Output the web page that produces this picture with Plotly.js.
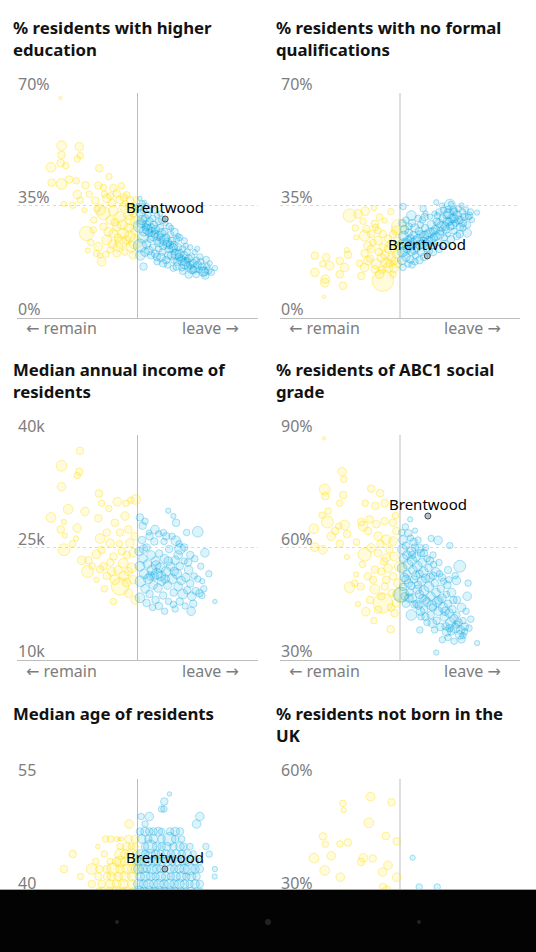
<!DOCTYPE html>
<html><head><meta charset="utf-8">
<script src="https://cdn.plot.ly/plotly-3.0.1.min.js"></script>
<style>
html,body{margin:0;padding:0;background:#fff;overflow:hidden;width:536px;height:952px}
#wrap{position:relative;width:536px;height:952px;overflow:hidden;background:#fff}
#chart{position:absolute;left:0;top:0;width:536px;height:952px}
#navbar{position:absolute;left:0;top:889px;width:536px;height:63px;background:#030303;border-top:1px solid #a8a8a8;box-sizing:border-box}
.dot{position:absolute;border-radius:50%;background:#232323}
</style></head><body>
<div id="wrap"><div id="chart"></div>
<div id="navbar">
<div class="dot" style="left:115px;top:30px;width:4px;height:4px"></div>
<div class="dot" style="left:265px;top:29px;width:6px;height:6px"></div>
<div class="dot" style="left:417px;top:30px;width:4px;height:4px"></div>
</div></div>
<script>
// ---- DATA: [leave vote %, value, population (thousands)] ----
const panelTitles = [
  '% residents with higher<br>education',
  '% residents with no formal<br>qualifications',
  'Median annual income of<br>residents',
  '% residents of ABC1 social<br>grade',
  'Median age of residents',
  '% residents not born in the<br>UK'
];
const eduTicks = [0, 35, 70], eduLabels = ['0%', '35%', '70%'];
const noqualTicks = [0, 35, 70], noqualLabels = ['0%', '35%', '70%'];
const incomeTicks = [10, 25, 40], incomeLabels = ['10k', '25k', '40k'];
const abc1Ticks = [30, 60, 90], abc1Labels = ['30%', '60%', '90%'];
const ageTicks = [25, 40, 55], ageLabels = ['25', '40', '55'];
const foreignTicks = [0, 30, 60], foreignLabels = ['0%', '30%', '60%'];
const leaveRange = [10, 90];
const brentwoodName = 'Brentwood';
const brentwoodEdu = [59.2, 30.8];
const brentwoodNoqual = [59.1, 19.3];
const brentwoodAbc1 = [59.3, 68.4];
const brentwoodAge = [59.1, 43];

const eduPoints = [
[24.4,68.5,20],[24.8,53.6,165],[30.7,53.3,130],[24.8,50.7,100],[31.0,50.5,75],[30.0,49.5,75],[24.5,48.2,100],[26.2,47.4,75],[21.3,46.9,165],[37.3,46.6,100],[40.5,44.0,75],[21.5,42.1,100],[24.8,41.7,200],[27.3,43.1,100],[29.7,42.7,75],[32.7,41.3,100],[37.0,41.2,100],[38.7,40.6,75],[42.0,40.4,100],[44.7,41.1,75],[30.0,38.4,130],[31.0,36.7,75],[25.6,35.5,50],[28.5,35.1,75],[32.4,33.5,50],[39.8,37.2,130],[43.1,38.8,100],[46.4,38.3,75],[47.5,36.7,100],[37.6,33.6,200],[38.7,32.6,300],[42.0,33.4,165],[45.3,34.6,100],[48.1,33.6,130],[40.9,30.5,130],[44.2,31.5,200],[47.5,30.5,165],[48.6,32.6,100],[33.1,26.3,350],[35.3,27.4,75],[37.0,22.2,130],[36.4,20.1,75],[38.1,17.5,130],[39.8,24.3,165],[42.0,26.3,130],[43.6,22.2,165],[45.3,26.3,200],[46.4,24.3,130],[43.1,20.1,100],[40.9,21.2,75],[48.1,22.2,200],[49.2,23.5,300],[43.1,28.4,130],[38.7,28.4,100],[40.3,26.8,130],[45.0,29.0,165],[47.0,28.0,130],[49.0,27.0,100],[49.3,30.0,165],[46.0,35.5,75],[41.5,35.8,100],[36.0,36.5,100],[35.5,30.5,75],[34.5,23.5,75],[44.5,23.5,250],[47.5,25.5,200],[48.8,35.0,75],[42.5,29.8,100],[39.0,38.5,75],[33.5,21.0,50],[37.5,19.5,50],[45.8,20.5,75],[48.5,19.5,100],[49.5,37.0,50],[41.0,38.0,75],[44.0,36.8,100],[46.8,32.0,130],[43.5,25.0,100],[41.8,23.0,130],[39.5,19.8,75],[47.8,34.5,75],[45.5,37.5,100],[36.5,34.0,75],[34.0,38.5,75],
[50.8,37.2,35],[50.5,34.5,100],[51.0,32.5,130],[51.5,30.5,165],[50.6,28.5,250],[52.0,33.5,75],[52.5,31.0,100],[53.0,29.0,130],[52.2,27.0,165],[51.8,25.0,200],[53.5,32.0,75],[54.0,30.0,100],[54.5,28.0,130],[53.8,26.5,100],[54.2,24.5,75],[55.0,31.0,75],[55.5,29.0,100],[56.0,27.5,130],[55.2,25.5,165],[56.5,24.0,100],[57.0,30.0,75],[57.5,28.0,100],[58.0,26.5,130],[57.2,23.5,130],[58.5,22.5,100],[59.0,27.0,75],[59.5,25.0,100],[60.0,23.5,130],[60.5,21.5,100],[61.0,26.0,75],[61.5,24.0,100],[62.0,22.5,130],[62.5,20.5,75],[63.0,24.5,75],[63.5,22.0,100],[64.0,20.0,130],[64.5,18.5,100],[65.0,21.5,75],[65.5,19.5,100],[66.0,17.5,130],[66.5,20.5,75],[67.0,18.5,100],[67.5,16.5,100],[68.0,19.0,75],[68.5,17.0,100],[69.0,15.5,130],[69.5,18.0,75],[70.0,16.5,100],[70.5,15.0,75],[71.0,17.5,75],[71.5,16.0,100],[72.0,14.5,130],[73.0,16.0,75],[73.5,14.8,100],[75.7,15.5,50],[52.0,16.0,100],[56.4,19.0,100],[61.9,15.5,75],[64.7,15.6,75],[66.3,18.0,50],[70.7,19.0,75],[71.9,14.4,165],[68.5,14.9,100],[51.2,29.5,130],[52.8,28.2,100],[53.3,27.5,165],[54.8,26.8,130],[55.8,26.2,100],[56.8,25.5,130],[57.8,25.0,100],[58.8,24.2,165],[59.8,22.8,130],[60.8,22.8,100],[61.8,21.8,130],[62.8,19.8,165],[63.8,19.0,100],[64.8,17.8,130],[65.8,16.8,165],[66.8,16.0,100],[67.8,15.2,130],[58.2,20.5,75],[60.2,19.5,100],[55.0,22.0,75],[53.0,23.0,130],[57.0,21.5,75],[50.8,22.5,300],[62.0,18.0,75],[59.3,29.5,50],[61.2,28.0,50],[63.5,25.5,50],[66.0,22.5,50],[69.0,20.5,50],[56.5,32.0,50],[54.0,33.5,50],
[51.5,35.5,75],[53.0,34.8,50],[52.3,36.0,35],[55.5,33.5,75],[57.5,32.5,50],[58.2,30.5,100],[60.5,28.5,75],[62.3,26.8,100],[64.0,25.0,75],[65.5,24.0,75],[67.5,22.0,50],[69.8,21.5,50],[52.5,20.5,130],[54.5,19.5,100],[56.5,17.5,75],[58.5,17.0,100],[60.0,16.5,75],[63.0,16.0,100],[65.0,14.5,75],[67.0,13.5,100],[69.5,13.5,75],[72.5,13.2,100],[74.5,14.2,75],[51.0,19.5,165],[53.8,21.0,130],[55.8,20.0,100],[57.8,18.8,130],[59.5,18.0,100],[61.3,19.5,130],[63.2,17.5,100],[74.0,17.0,50],[72.8,18.2,75]
];

const noqualPoints = [
[24.7,6.6,20],[21.6,19.4,100],[21.6,14.2,130],[25.4,18.9,100],[24.3,16.8,75],[26.6,16.3,130],[25.1,12.1,130],[24.9,11.0,130],[29.9,17.8,100],[31.6,15.7,130],[29.9,13.6,100],[31.0,10.0,100],[32.3,21.1,50],[32.7,19.7,100],[33.2,31.9,300],[36.0,32.4,130],[38.4,33.2,130],[41.3,34.2,50],[46.9,33.1,75],[35.1,28.0,75],[37.7,30.1,75],[38.8,27.7,100],[41.6,29.3,100],[43.2,31.4,75],[44.9,30.3,50],[35.4,25.1,50],[38.2,25.6,200],[40.4,26.1,100],[41.8,28.2,75],[39.3,22.5,130],[38.2,20.1,100],[40.4,21.5,100],[42.7,24.1,130],[44.3,22.0,100],[46.0,24.6,100],[47.7,26.1,100],[48.8,27.2,165],[49.7,28.4,400],[38.2,15.7,130],[37.1,13.1,100],[39.3,17.8,130],[42.1,16.8,165],[43.8,18.8,130],[45.4,17.3,165],[47.1,18.8,130],[48.8,19.9,130],[47.7,21.5,100],[49.3,16.8,100],[44.3,11.6,800],[41.6,15.2,100],[43.2,13.6,130],[47.7,13.6,75],[46.0,15.7,165],[48.2,17.8,100],[42.7,27.2,75],[44.3,26.1,100],[46.0,21.5,100],[49.7,22.5,100],[45.0,19.5,130],[46.5,17.0,100],[48.0,15.5,130],[44.0,15.0,100],[40.0,18.5,100],[36.5,17.0,75],[49.0,24.0,100],[47.0,23.0,130],[43.0,20.5,100],[41.0,23.5,75],
[51.0,34.7,75],[53.8,31.9,165],[57.7,34.0,75],[62.1,36.0,50],[66.6,35.3,200],[72.7,31.4,75],[75.7,32.8,50],[72.4,26.5,130],[69.9,26.1,100],[58.2,31.4,100],[50.6,18.0,130],[50.8,20.5,165],[51.0,23.0,200],[51.2,25.5,165],[51.5,27.5,130],[51.0,15.7,75],[52.7,16.8,75],[52.0,19.0,130],[52.3,21.5,100],[52.6,24.0,130],[52.9,26.5,100],[53.5,18.2,100],[53.8,20.8,130],[54.2,23.2,165],[54.5,25.8,100],[55.0,28.0,130],[55.2,19.5,75],[55.6,22.0,130],[56.0,24.5,165],[56.3,27.0,100],[56.8,29.0,75],[57.0,20.5,100],[57.5,23.0,130],[58.0,25.5,165],[58.4,28.0,100],[58.8,21.5,75],[59.5,24.0,130],[60.0,26.5,165],[60.4,29.0,130],[60.8,22.5,75],[61.3,25.0,100],[61.8,27.5,130],[62.2,30.0,100],[62.8,23.5,75],[63.3,26.0,130],[63.8,28.5,165],[64.2,31.0,100],[64.8,25.0,75],[65.3,27.5,100],[65.8,30.0,130],[66.2,32.5,165],[66.8,28.5,100],[67.3,31.0,130],[67.8,33.5,100],[68.5,29.5,75],[69.0,32.0,130],[69.5,34.0,75],[70.2,30.5,100],[70.8,33.0,75],[71.5,31.5,100],[72.0,33.8,50],[73.5,33.0,75],[68.0,27.0,75],[63.0,33.0,75],[60.0,31.5,50],[56.0,31.0,75],[54.0,29.5,100],[51.8,21.0,165],[53.0,22.5,130],[54.8,21.0,100],[56.5,22.8,130],[57.8,24.0,100],[59.0,23.0,130],[60.5,24.5,100],[62.0,25.5,130],[63.5,27.0,100],[65.0,28.5,130],[66.5,30.0,100],[68.0,31.0,130],[59.8,20.8,75],[55.0,17.5,75],[53.0,28.5,75],[61.5,32.5,50],[58.5,32.5,50],[64.5,33.5,75],[67.0,35.5,50],[70.5,35.0,50],[74.0,30.5,50],[71.0,28.0,75],[66.0,26.0,50],
[50.8,29.5,100],[52.0,30.5,75],[54.0,16.5,75],[56.5,18.0,100],[58.0,19.0,100],[61.0,20.5,100],[63.0,21.5,100],[65.0,23.0,100],[67.0,24.5,100],[69.0,25.5,100],[71.0,29.5,100],[72.5,29.0,75],[73.0,31.8,100],[70.0,28.3,100],[68.0,33.0,100],[66.0,33.8,75],[64.0,35.0,50],[62.5,31.8,75],[61.0,27.0,100],[59.0,26.0,130],[57.0,26.0,100],[55.0,24.0,130],[53.5,24.8,100],[52.0,23.5,130],[57.5,30.5,75],[63.0,29.5,130],[65.5,32.0,100],[67.5,29.0,130],[69.5,30.5,130]
];

const incomePoints = [
[30.9,37.9,100],[24.8,35.9,200],[30.7,35.1,100],[30.0,34.6,75],[24.8,33.1,130],[37.2,32.2,100],[38.1,30.9,75],[43.3,31.1,130],[46.2,30.9,75],[47.8,31.3,75],[49.4,31.4,165],[40.5,30.2,75],[27.0,30.1,165],[32.6,29.8,130],[21.3,29.0,165],[37.0,28.9,100],[45.9,29.2,130],[42.5,28.3,100],[25.6,28.4,50],[30.0,27.6,130],[24.5,27.4,100],[39.8,27.0,100],[44.2,27.0,100],[47.0,27.4,100],[25.9,26.6,50],[29.6,26.2,50],[37.6,26.2,165],[28.5,25.5,75],[25.6,24.7,250],[31.5,23.3,130],[33.7,23.3,100],[33.4,21.8,250],[36.4,24.1,130],[38.1,24.7,100],[40.9,25.6,130],[42.0,23.8,100],[44.8,24.5,100],[47.5,25.6,130],[48.6,24.3,130],[38.7,22.5,100],[41.4,21.8,130],[42.5,20.7,165],[44.2,19.8,520],[45.3,22.9,165],[47.0,21.8,130],[48.1,22.3,165],[48.6,20.7,130],[46.4,20.3,130],[47.0,18.9,130],[42.0,17.8,75],[49.2,18.0,130],[36.4,20.7,50],[37.6,22.1,100],[39.8,21.2,100],[43.5,22.0,130],[45.5,21.2,165],[41.0,23.0,100],[46.5,24.0,100],[49.0,26.5,100],[44.0,25.5,75],[39.0,19.5,75],[35.0,22.5,75],
[60.2,29.9,50],[61.9,29.2,50],[62.8,28.3,100],[70.0,27.1,200],[66.3,27.0,75],[50.8,29.0,100],[51.7,27.9,100],[55.8,27.4,130],[58.6,27.0,75],[62.7,25.9,165],[64.1,24.8,200],[72.4,24.3,130],[73.7,21.5,75],[75.7,17.8,35],[71.4,18.6,75],[67.8,16.5,130],[61.9,17.4,75],[57.1,17.2,100],[53.0,17.6,100],[50.8,18.3,165],[50.5,24.5,130],[50.8,22.5,165],[51.0,20.5,200],[51.5,26.0,100],[51.8,23.5,130],[52.2,21.5,165],[52.5,19.5,130],[53.0,25.0,100],[53.3,22.8,130],[53.6,20.8,165],[54.0,18.8,100],[54.5,24.0,130],[54.8,22.0,165],[55.2,20.0,130],[55.6,25.8,100],[56.0,23.2,130],[56.4,21.5,200],[56.8,19.6,130],[57.2,24.2,100],[57.6,22.3,165],[58.0,20.5,130],[58.5,18.6,100],[59.0,23.5,130],[59.5,21.8,165],[60.0,20.0,130],[60.5,24.8,100],[61.0,22.5,130],[61.5,20.8,165],[62.0,19.0,100],[62.5,23.3,130],[63.0,21.5,165],[63.5,19.8,130],[64.0,22.5,100],[64.5,20.6,130],[65.0,18.8,165],[65.5,23.2,75],[66.0,21.0,130],[66.5,19.3,100],[67.0,22.0,130],[67.5,20.2,100],[68.0,18.5,130],[68.8,21.2,75],[69.3,19.2,100],[70.0,20.8,75],[70.6,18.9,100],[71.5,20.5,50],[72.0,19.5,75],[58.8,25.8,75],[63.8,25.5,75],[55.0,17.0,75],[60.3,17.8,75],[65.8,17.2,75],[53.8,27.0,50],[57.0,26.8,75],[52.0,24.8,130],[56.2,22.6,165],[59.2,20.8,130],[62.2,21.8,130],[57.8,21.2,165],[55.5,21.2,130],
[52.5,28.5,75],[54.0,26.5,100],[59.5,26.5,100],[61.5,26.5,75],[65.5,25.0,100],[67.5,24.0,100],[69.0,23.5,75],[71.0,22.5,75],[68.5,17.5,100],[64.0,17.8,100],[62.5,16.8,75],[59.0,16.5,75],[56.0,18.0,100],[63.5,24.0,130],[66.8,23.0,100],[60.2,23.2,130],[54.2,21.2,130]
];

const abc1Points = [
[24.7,89.1,20],[30.7,80.2,130],[31.3,78.2,75],[24.9,75.5,200],[25.1,73.7,100],[31.1,74.0,100],[40.4,75.7,100],[43.4,74.5,100],[29.9,71.8,75],[38.4,71.8,75],[41.8,71.1,100],[44.9,71.8,100],[26.0,69.7,75],[24.0,68.6,75],[25.8,66.8,250],[21.3,65.0,165],[29.6,65.7,75],[31.6,66.0,165],[28.4,64.4,100],[27.1,63.0,130],[32.4,63.6,100],[37.1,66.8,100],[37.7,65.7,165],[39.9,67.5,100],[42.1,66.2,100],[44.9,67.0,100],[47.7,66.6,100],[48.8,64.4,100],[39.3,64.4,100],[42.7,63.0,130],[45.4,62.1,165],[47.7,61.7,130],[29.9,61.0,100],[21.6,60.1,130],[24.3,59.4,130],[32.3,57.5,50],[38.2,58.1,300],[40.4,59.9,130],[42.7,58.5,100],[45.4,57.2,130],[48.0,57.6,130],[49.9,55.0,200],[44.7,56.3,100],[41.6,54.1,100],[39.3,52.3,100],[41.0,51.4,100],[35.4,52.8,50],[34.9,50.5,75],[36.9,49.6,100],[33.2,49.4,200],[43.8,53.6,100],[45.4,51.4,100],[47.7,52.3,100],[49.3,50.5,130],[41.6,48.9,165],[44.9,49.6,100],[43.8,47.0,100],[44.3,45.2,660],[47.3,47.9,100],[48.8,45.2,130],[38.6,42.9,130],[36.0,44.9,50],[41.3,40.5,75],[46.9,38.2,100],[42.7,43.4,100],[49.9,47.4,350],[48.2,42.5,100],[46.5,59.5,100],[43.5,61.0,100],[48.5,68.5,75],[46.0,54.5,130],[40.0,46.0,100],[37.5,55.5,75],[35.5,61.5,75],[47.0,44.0,100],
[53.4,67.5,50],[60.4,62.4,75],[62.7,61.9,130],[66.6,60.5,75],[69.9,55.0,250],[68.4,52.5,75],[66.3,51.4,75],[68.8,51.2,130],[72.7,50.5,75],[72.4,47.0,130],[73.6,40.9,75],[75.7,34.5,50],[62.1,32.0,50],[64.1,35.4,75],[56.6,38.0,75],[53.8,42.0,200],[50.4,47.4,400],[69.9,36.7,130],[67.1,37.6,100],[71.6,38.9,100],[50.6,64.0,75],[51.0,62.0,130],[50.8,59.5,165],[51.2,57.0,130],[50.7,54.5,165],[51.5,52.0,130],[51.0,49.5,100],[52.0,60.5,100],[52.3,58.0,130],[52.6,55.5,165],[52.2,53.0,100],[52.8,50.5,130],[53.2,48.0,100],[53.5,62.5,75],[53.8,59.0,130],[54.0,56.5,165],[54.3,54.0,130],[54.6,51.5,100],[54.2,46.5,130],[55.0,60.0,100],[55.4,57.5,130],[55.8,55.0,165],[55.2,52.5,130],[56.0,50.0,100],[56.5,47.5,130],[56.2,44.5,100],[57.0,58.5,100],[57.4,56.0,130],[57.8,53.5,165],[57.3,51.0,130],[58.0,48.5,165],[58.4,46.0,130],[58.0,43.5,100],[59.0,57.0,75],[59.5,54.5,100],[60.0,52.0,130],[59.6,49.5,165],[60.3,47.0,130],[60.6,44.5,165],[60.2,42.0,100],[61.2,55.5,75],[61.6,50.5,100],[62.0,48.0,130],[62.4,45.5,165],[62.8,43.0,130],[62.2,40.5,100],[63.2,53.0,75],[63.6,49.0,100],[64.0,46.5,130],[64.4,44.0,165],[64.8,41.5,130],[65.2,39.0,100],[65.5,47.5,75],[66.0,45.0,100],[66.4,42.5,130],[66.8,40.0,165],[67.5,43.5,100],[68.0,41.0,130],[68.4,38.5,165],[69.0,42.0,75],[69.5,40.0,100],[70.2,38.0,130],[71.0,40.5,75],[71.5,37.5,75],[64.5,51.0,75],[61.0,58.0,75],[58.5,60.0,75],[56.0,62.0,75],[55.0,64.5,50],[63.0,56.0,75],[66.0,54.0,100],[59.0,40.0,75],[57.0,41.5,75],[55.5,45.0,100],[61.5,38.0,75],[66.0,36.0,75],[52.0,45.0,100],
[51.8,65.5,75],[52.8,63.8,100],[54.5,61.5,100],[56.5,59.8,130],[58.0,58.5,100],[60.0,56.5,100],[62.0,53.5,130],[64.0,52.0,100],[65.8,50.0,100],[67.2,48.0,130],[69.0,46.0,100],[70.5,44.0,130],[72.0,43.0,75],[73.0,38.5,75],[70.5,35.5,100],[68.0,35.0,75],[65.5,37.5,130],[63.5,38.8,100],[60.8,39.8,130],[58.5,41.5,100],[56.8,43.0,130],[54.8,44.8,100],[53.0,46.5,130],[51.5,47.0,100],[67.8,46.0,100],[65.0,43.0,130],[63.0,46.0,130],[61.0,44.0,100],[59.0,45.5,130],[57.5,46.5,100],[55.8,48.8,130],[53.8,49.8,100],[52.0,51.5,130],[61.0,52.5,100],[58.5,51.8,130],[56.5,53.0,100],[54.0,58.0,100],[66.5,38.5,100],[68.8,39.5,100],[71.0,36.5,75]
];

const agePoints = [
[47.2,49,130],[39.4,47,75],[41.1,47,75],[43.1,47,50],[43.9,47,20],[44.7,47,35],[47.0,47,100],[49.2,47,100],[36.8,46,35],[44.2,46,75],[46.4,46,100],[48.0,46,75],[49.2,46,75],[28.5,45,100],[39.0,45,75],[44.2,45,200],[45.8,45,130],[47.5,45,100],[49.5,45,100],[36.2,44,75],[40.9,44,75],[43.1,44,130],[44.2,44,200],[45.8,44,130],[48.1,44,100],[49.5,44,130],[25.6,43,100],[34.8,43,200],[37.3,43,100],[39.8,43,100],[41.8,43,250],[44.2,43,130],[46.4,43,165],[48.1,43,130],[49.7,43,200],[31.1,42,75],[37.0,42,100],[39.8,42,100],[41.4,42,130],[43.6,42,130],[45.8,42,165],[48.1,42,130],[34.8,41,100],[38.1,41,100],[40.9,41,130],[43.1,41,130],[45.3,41,165],[48.1,41,130],[37.3,40,100],[38.4,40,130],[40.7,40,130],[42.9,40,165],[45.2,40,130],[46.3,40,130],[48.5,40,100],[35.0,39,100],[42.0,38,130],[30.0,37,100],[26.0,35,130],
[60.6,53,35],[58.9,52,100],[58.0,51,75],[58.8,51,75],[51.2,50,75],[53.9,50,130],[70.7,50,130],[52.5,49,75],[69.6,49,130],[50.8,48,100],[52.5,48,130],[53.9,48,100],[55.3,48,100],[56.9,48,130],[58.0,48,75],[60.8,48,100],[62.5,48,130],[64.1,48,100],[51.4,47,130],[53.6,47,100],[55.3,47,130],[58.0,47,100],[60.6,47,300],[62.5,47,100],[64.7,47,75],[52.5,46,100],[54.2,46,300],[56.4,46,130],[58.0,46,100],[59.7,46,130],[61.9,46,100],[64.1,46,130],[65.2,46,100],[67.4,46,75],[72.7,46,75],[50.9,45,130],[52.6,45,100],[54.3,45,165],[56.0,45,130],[57.7,45,100],[59.4,45,130],[61.1,45,100],[62.8,45,130],[64.7,45,100],[66.5,45,130],[68.5,45,75],[73.8,45,75],[50.3,44,130],[52.0,44,100],[53.4,44,130],[55.1,44,165],[56.6,44,100],[58.2,44,130],[59.9,44,165],[61.6,44,100],[63.3,44,130],[65.0,44,100],[66.7,44,130],[69.0,44,100],[70.7,44,75],[50.3,43,165],[51.8,43,130],[53.1,43,100],[54.8,43,165],[56.3,43,130],[57.7,43,100],[60.8,43,130],[62.2,43,100],[63.9,43,130],[65.6,43,165],[67.3,43,250],[69.1,43,130],[70.7,43,100],[75.7,43,50],[50.9,42,130],[52.6,42,165],[54.3,42,130],[56.0,42,100],[57.7,42,165],[59.4,42,130],[61.1,42,100],[62.8,42,130],[64.5,42,165],[66.2,42,100],[67.9,42,130],[69.6,42,100],[75.6,42,50],[50.3,41,165],[52.0,41,130],[53.7,41,165],[55.4,41,130],[57.1,41,165],[58.8,41,130],[60.5,41,165],[62.2,41,130],[63.9,41,165],[65.6,41,130],[67.3,41,100],[69.1,41,130],[70.7,41,100],[50.5,40,200],[52.2,40,130],[54.0,40,165],[55.6,40,130],[57.4,40,165],[59.0,40,130],[60.8,40,165],[62.4,40,130],[64.2,40,130],[66.0,40,100],[67.6,40,130],[69.4,40,100],[71.0,40,75],[53.0,39,130],[56.5,39,100],[60.0,39,130],[64.0,39,100],[55.0,38,100],[62.0,38,75],[58.0,37,75]
];

const foreignPoints = [
[40.2,55.3,130],[47.2,53.8,100],[31.0,53.5,75],[31.2,51.7,50],[39.6,48.3,165],[24.3,44.7,100],[45.3,44.8,100],[48.9,43.4,100],[25.1,42.6,75],[30.0,42.7,75],[32.6,43.1,100],[21.3,38.9,165],[27.1,39.5,130],[37.8,39.0,130],[37.0,37.9,100],[40.9,38.8,100],[24.9,35.6,165],[46.0,37.0,130],[44.2,35.2,130],[30.1,33.8,130],[48.9,33.8,130],[44.4,31.2,100],[45.6,30.3,130],[22.0,27.0,200],[35.0,25.0,130],[42.0,22.0,165],[47.0,18.0,130],[38.0,15.0,100],
[54.2,39.0,50],[56.4,31.2,75],[62.4,31.2,75],[52.0,20.0,130],[55.0,12.0,165],[60.0,8.0,130],[65.0,5.0,100],[58.0,16.0,100],[68.0,4.0,75]
];

// ---- PANELS built from the named arrays ----
const panels = [
  {title: panelTitles[0], points: eduPoints, ticks: eduTicks, labels: eduLabels, brent: brentwoodEdu},
  {title: panelTitles[1], points: noqualPoints, ticks: noqualTicks, labels: noqualLabels, brent: brentwoodNoqual},
  {title: panelTitles[2], points: incomePoints, ticks: incomeTicks, labels: incomeLabels, brent: null},
  {title: panelTitles[3], points: abc1Points, ticks: abc1Ticks, labels: abc1Labels, brent: brentwoodAbc1},
  {title: panelTitles[4], points: agePoints, ticks: ageTicks, labels: ageLabels, brent: brentwoodAge},
  {title: panelTitles[5], points: foreignPoints, ticks: foreignTicks, labels: foreignLabels, brent: null}
];

// ---- LAYOUT GEOMETRY (the page is cut at the bottom of the window) ----
const W = 536, H = 952;
const colLeft = [17, 280], colRight = [258, 520];
const rowTop = [93, 435, 779], plotH = 225;
const FONT = '"Noto Sans", "Open Sans", "DejaVu Sans", sans-serif';
const pxX = v => v / W, pxY = v => 1 - v / H;
const YELLOW_FILL = 'rgba(255,229,0,0.2)', YELLOW_LINE = 'rgba(255,220,0,0.55)';
const BLUE_FILL = 'rgba(0,170,228,0.2)', BLUE_LINE = 'rgba(0,165,224,0.45)';
const AXIS_GREY = '#bdbdbd', TEXT_GREY = '#7d7d7d';

const traces = [], shapes = [], annotations = [];
const layout = {
  width: W, height: H, margin: {l: 0, r: 0, t: 0, b: 0},
  paper_bgcolor: '#fff', plot_bgcolor: 'rgba(0,0,0,0)', showlegend: false,
  hovermode: false, font: {family: FONT}
};

function bubble(pts, xa, ya, fill, line) {
  return {
    type: 'scatter', mode: 'markers', xaxis: xa, yaxis: ya,
    x: pts.map(d => d[0]), y: pts.map(d => d[1]),
    marker: {size: pts.map(d => d[2]), sizemode: 'area', sizeref: 3.5, sizemin: 1.5,
      color: fill, line: {color: line, width: 1}},
    hoverinfo: 'skip'
  };
}

panels.forEach((p, i) => {
  const col = i % 2, row = Math.floor(i / 2), n = i + 1;
  const sfx = n === 1 ? '' : String(n);
  const xa = 'x' + sfx, ya = 'y' + sfx;
  const lo = p.ticks[0], hi = p.ticks[p.ticks.length - 1], mid = p.ticks[1];
  const top = rowTop[row], bottom = Math.min(top + plotH, H);
  const cut = (top + plotH) > H;
  // when the window cuts the panel, only the visible part of the value range is kept
  const visLo = cut ? hi - (hi - lo) * (bottom - top) / plotH : lo;

  layout['xaxis' + sfx] = {
    domain: [pxX(colLeft[col]), pxX(colRight[col])], range: leaveRange, anchor: ya,
    showgrid: false, zeroline: false, showticklabels: false, ticks: '',
    showline: true, linecolor: AXIS_GREY, linewidth: 1, fixedrange: true
  };
  layout['yaxis' + sfx] = {
    domain: [pxY(bottom), pxY(top)], range: [visLo, hi], anchor: xa,
    showgrid: false, zeroline: false, showline: false, ticks: '',
    tickmode: 'array', tickvals: p.ticks, ticktext: p.labels,
    ticklabelposition: 'inside top', ticklabeloverflow: 'allow', ticklabelstandoff: -2, ticklabelshift: 3,
    tickfont: {family: FONT, size: 16, color: TEXT_GREY}, fixedrange: true
  };

  const remain = p.points.filter(d => d[0] < 50);
  const leave = p.points.filter(d => d[0] >= 50);
  traces.push(bubble(remain, xa, ya, YELLOW_FILL, YELLOW_LINE));
  traces.push(bubble(leave, xa, ya, BLUE_FILL, BLUE_LINE));

  shapes.push({type: 'line', layer: 'below', xref: xa, yref: ya + ' domain', x0: 50, x1: 50, y0: 0, y1: 1,
    line: {color: AXIS_GREY, width: 1}});
  shapes.push({type: 'line', layer: 'below', xref: xa + ' domain', yref: ya, x0: 0, x1: 1, y0: mid, y1: mid,
    line: {color: '#d9d9d9', width: 1, dash: 'dot'}});

  annotations.push({xref: 'paper', yref: 'paper', x: pxX(colLeft[col] - 6), y: pxY(top - 79),
    xanchor: 'left', yanchor: 'top', align: 'left', showarrow: false, text: p.title,
    font: {family: FONT, size: 16.8, color: '#121212', weight: 700}});
  if (!cut) {
    annotations.push({xref: xa + ' domain', yref: ya + ' domain', x: 8 / 241, y: 0, xanchor: 'left', yanchor: 'top',
      showarrow: false, text: '← remain', borderpad: 0, font: {family: FONT, size: 16, color: TEXT_GREY}, yshift: 1.5});
    annotations.push({xref: xa + ' domain', yref: ya + ' domain', x: 1 - 18 / 241, y: 0, xanchor: 'right', yanchor: 'top',
      showarrow: false, text: 'leave →', borderpad: 0, font: {family: FONT, size: 16, color: TEXT_GREY}, yshift: 1.5});
  }

  if (p.brent) {
    traces.push({type: 'scatter', mode: 'markers', xaxis: xa, yaxis: ya, x: [p.brent[0]], y: [p.brent[1]],
      marker: {size: 6, color: 'rgba(120,160,180,0.6)', line: {color: '#4a4a4a', width: 1}}, hoverinfo: 'skip'});
    annotations.push({xref: xa, yref: ya, x: p.brent[0], y: p.brent[1], xanchor: 'center', yanchor: 'bottom',
      showarrow: false, text: brentwoodName, font: {family: FONT, size: 15, color: '#000'}, yshift: 0});
  }
});

layout.shapes = shapes;
layout.annotations = annotations;
Plotly.newPlot('chart', traces, layout, {staticPlot: true, displayModeBar: false});
</script>
</body></html>
